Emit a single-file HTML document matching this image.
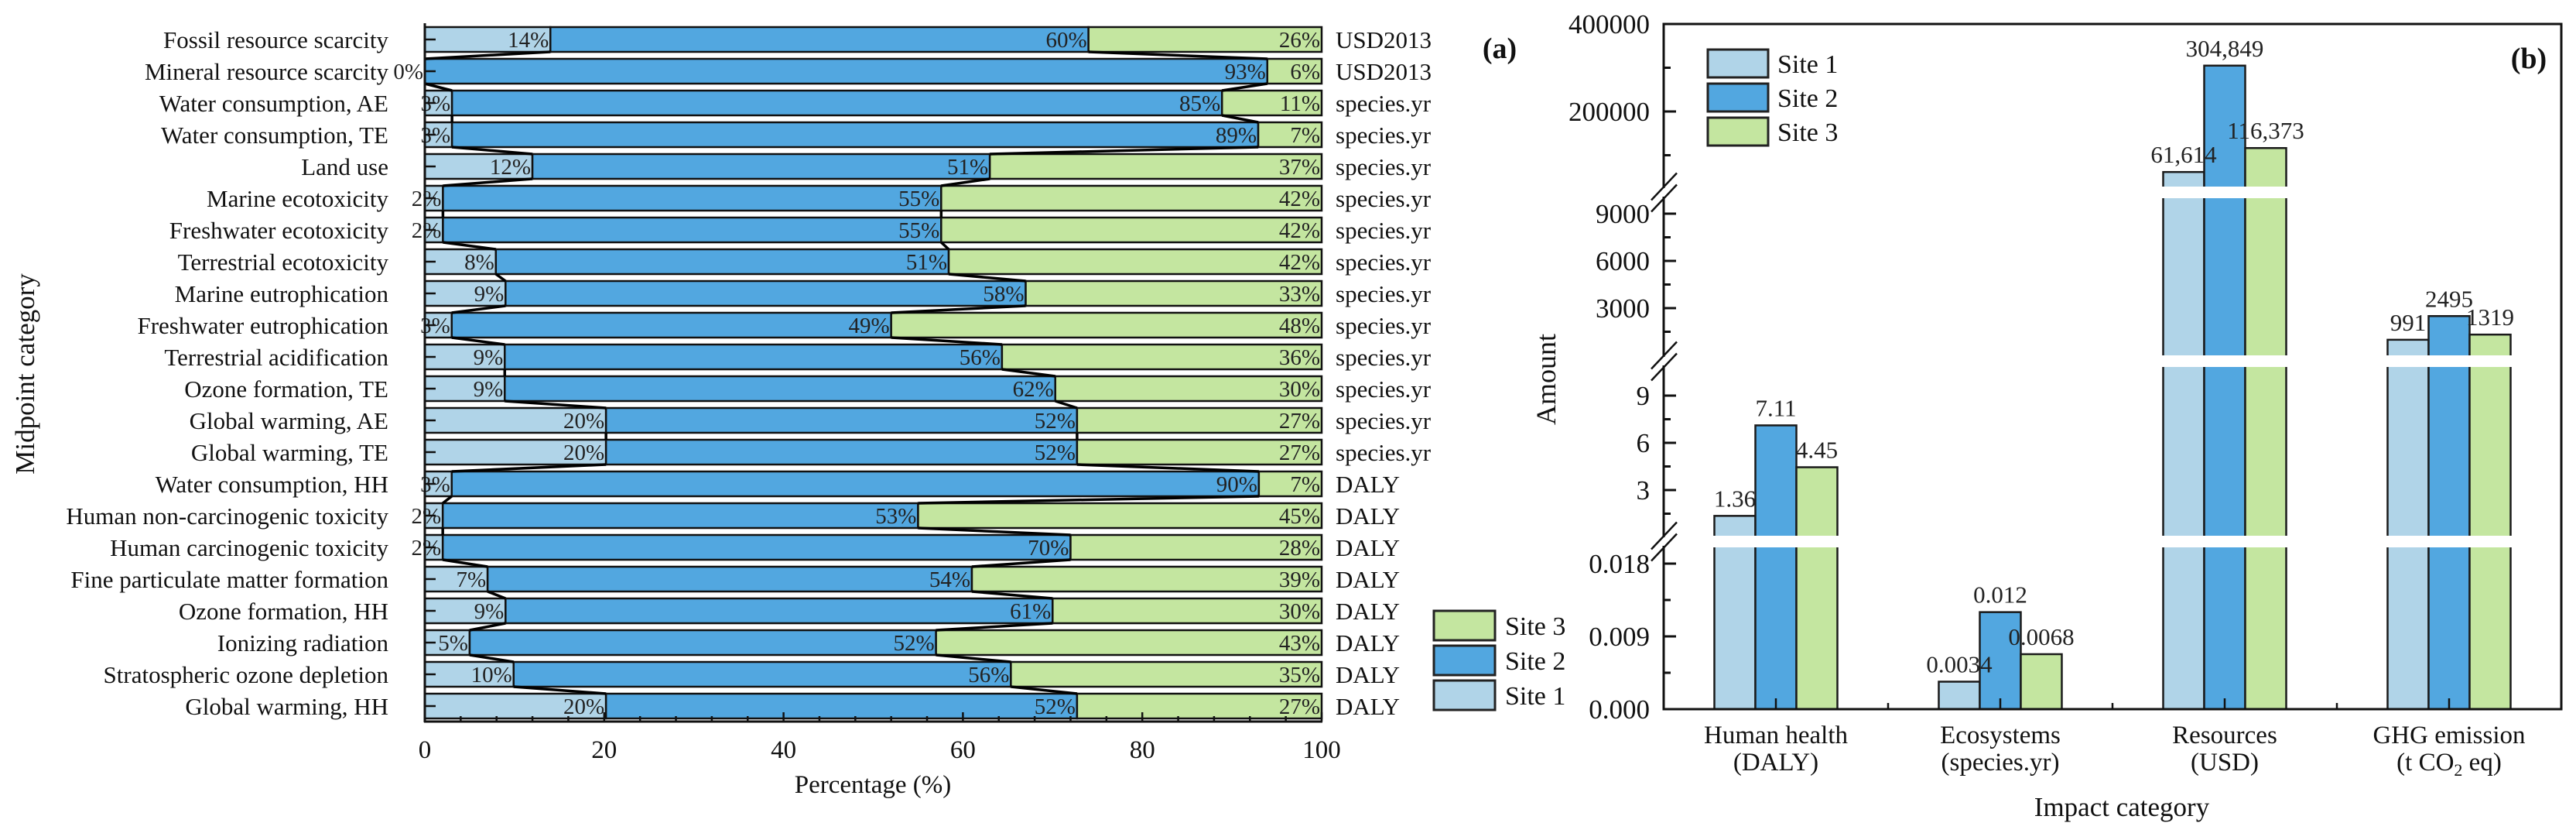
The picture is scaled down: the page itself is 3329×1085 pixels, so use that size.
<!DOCTYPE html>
<html><head><meta charset="utf-8"><style>
html,body{margin:0;padding:0;background:#fff}
svg{display:block;font-family:"Liberation Serif",serif}
</style></head><body>
<svg id="chart" width="3329" height="1085" viewBox="0 0 3329 1085" xmlns="http://www.w3.org/2000/svg">
<g id="left"></g>
<g id="right"></g>
<g id="rightLabels"></g>
</svg>
<script>
// ---- Panel (a) data ----
const categories = ["Fossil resource scarcity","Mineral resource scarcity","Water consumption, AE","Water consumption, TE","Land use","Marine ecotoxicity","Freshwater ecotoxicity","Terrestrial ecotoxicity","Marine eutrophication","Freshwater eutrophication","Terrestrial acidification","Ozone formation, TE","Global warming, AE","Global warming, TE","Water consumption, HH","Human non-carcinogenic toxicity","Human carcinogenic toxicity","Fine particulate matter formation","Ozone formation, HH","Ionizing radiation","Stratospheric ozone depletion","Global warming, HH"];
const units = ["USD2013","USD2013","species.yr","species.yr","species.yr","species.yr","species.yr","species.yr","species.yr","species.yr","species.yr","species.yr","species.yr","species.yr","DALY","DALY","DALY","DALY","DALY","DALY","DALY","DALY"];
const site1Pct = [14,0,3,3,12,2,2,8,9,3,9,9,20,20,3,2,2,7,9,5,10,20];
const site2Pct = [60,93,85,89,51,55,55,51,58,49,56,62,52,52,90,53,70,54,61,52,56,52];
const site3Pct = [26,6,11,7,37,42,42,42,33,48,36,30,27,27,7,45,28,39,30,43,35,27];
const pctTicks = [0,20,40,60,80,100];
// ---- Panel (b) data ----
const groups = ["Human health|(DALY)","Ecosystems|(species.yr)","Resources|(USD)","GHG emission|(t CO2 eq)"];
const site1Amt = [1.36,0.0034,61614,991];
const site2Amt = [7.11,0.012,304849,2495];
const site3Amt = [4.45,0.0068,116373,1319];
const amtLabels1 = ["1.36","0.0034","61,614","991"];
const amtLabels2 = ["7.11","0.012","304,849","2495"];
const amtLabels3 = ["4.45","0.0068","116,373","1319"];
const groupSegment = [1,0,3,2];

const C1="#b0d4e8",C2="#52a7e0",C3="#c4e6a0";
const NS="http://www.w3.org/2000/svg";
function mk(parent,tag,attrs,text){const e=document.createElementNS(NS,tag);for(const k in attrs)e.setAttribute(k,attrs[k]);if(text!==undefined)e.textContent=text;parent.appendChild(e);return e;}

// ================= Panel A =================
const L=document.getElementById('left');
const ax0=549, ax1=1708, axBottom=932, rowTop0=51, rowPitch=41, barH=32;
const xA=p=>ax0+(ax1-ax0)*p/100;
const yRow=i=>rowTop0+rowPitch*i;
const n=categories.length;
const bounds=[];
for(let i=0;i<n;i++){
  const s=site1Pct[i]+site2Pct[i]+site3Pct[i];
  const b1=site1Pct[i]/s*100, b2=(site1Pct[i]+site2Pct[i])/s*100;
  bounds.push([0,b1,b2,100]);
  const yc=yRow(i), yt=yc-barH/2;
  const segs=[[0,b1,C1,'site1'],[b1,b2,C2,'site2'],[b2,100,C3,'site3']];
  segs.forEach(sg=>{
    const r=mk(L,'rect',{x:xA(sg[0]),y:yt,width:Math.max(0,xA(sg[1])-xA(sg[0])),height:barH,fill:sg[2],stroke:'#111','stroke-width':2.5});
    
    
  });
  const labs=[[b1,site1Pct[i]],[b2,site2Pct[i]],[100,site3Pct[i]]];
  labs.forEach((lb,k)=>{
    const t=mk(L,'text',{x:xA(lb[0])-2,y:yc+10,'text-anchor':'end','font-size':29,fill:'#222'},lb[1]+'%');
    
    
  });
  const ct=mk(L,'text',{x:502,y:yc+11,'text-anchor':'end','font-size':31,fill:'#111'},categories[i]);
  
  
  const ut=mk(L,'text',{x:1726,y:yc+11,'font-size':31,fill:'#111'},units[i]);
  
  
  mk(L,'line',{x1:ax0,x2:ax0+14,y1:yc,y2:yc,stroke:'#111','stroke-width':2.5});
}
for(let i=0;i<n-1;i++){
  for(let k=1;k<=2;k++){
    const c=mk(L,'line',{x1:xA(bounds[i][k]),y1:yRow(i)+barH/2,x2:xA(bounds[i+1][k]),y2:yRow(i+1)-barH/2,stroke:'#000','stroke-width':3.5});
    
    
  }
}
mk(L,'line',{x1:ax0,x2:ax0,y1:30,y2:axBottom+1,stroke:'#111','stroke-width':3});
mk(L,'line',{x1:ax0-1,x2:ax1+1,y1:axBottom,y2:axBottom,stroke:'#111','stroke-width':3});
for(let p=0;p<=100;p+=4){
  const major=p%20===0;
  mk(L,'line',{x1:xA(p),x2:xA(p),y1:axBottom,y2:axBottom-(major?12:7),stroke:'#111','stroke-width':2.5});
}
pctTicks.forEach(p=>{
  const t=mk(L,'text',{x:xA(p),y:979,'text-anchor':'middle','font-size':33,fill:'#111'},String(p));
  
  
});
{const t=mk(L,'text',{x:1128,y:1024,'text-anchor':'middle','font-size':33,fill:'#111'},'Percentage (%)');

const t2=mk(L,'text',{x:0,y:0,'text-anchor':'middle','font-size':35,fill:'#111',transform:'translate(44,483) rotate(-90)'},'Midpoint category');

const t3=mk(L,'text',{x:1938,y:75,'text-anchor':'middle','font-size':38,'font-weight':'bold',fill:'#111'},'(a)');
}
[[C3,'Site 3',789],[C2,'Site 2',834],[C1,'Site 1',879]].forEach(l=>{
  const r=mk(L,'rect',{x:1853,y:l[2],width:79,height:38,fill:l[0],stroke:'#222','stroke-width':3});
  
  const t=mk(L,'text',{x:1945,y:l[2]+31,'font-size':34,fill:'#111'},l[1]);
  
});

// ================= Panel B =================
const R=document.getElementById('right');
const RL=document.getElementById('rightLabels');
const bx0=2150,bx1=3310,bTop=31,bBot=916,gw=290,bw=53;
const segments=[{lo:0,hi:0.02001,y0:916,y1:707},{lo:0,hi:10.82,y0:694,y1:474},{lo:0,hi:9984,y0:459,y1:256},{lo:28319,hi:400000,y0:241,y1:31}];
const gaps=[[692,707],[459,474],[241,256]];
function yB(seg,v){const s=segments[seg];return s.y0-(v-s.lo)*(s.y0-s.y1)/(s.hi-s.lo);}
const gc=i=>bx0+gw/2+gw*i;
const sets=[[site1Amt,C1,amtLabels1,'site1'],[site2Amt,C2,amtLabels2,'site2'],[site3Amt,C3,amtLabels3,'site3']];
for(let g=0;g<groups.length;g++){
  const seg=groupSegment[g];
  sets.forEach((st,k)=>{
    const x=gc(g)+(k-1.5)*bw, yt=yB(seg,st[0][g]);
    const r=mk(R,'rect',{x:x,y:yt,width:bw,height:bBot-yt,fill:st[1],stroke:'#1a1a1a','stroke-width':2.5});
    
    
    const t=mk(RL,'text',{x:x+bw/2,y:yt-12,'text-anchor':'middle','font-size':31,fill:'#222'},st[2][g]);
    
    
  });
  gaps.forEach(gp=>{
    const top=Math.min(...sets.map(st=>yB(seg,st[0][g])));
    if(top<gp[0]) mk(R,'rect',{x:gc(g)-1.5*bw-3,y:gp[0],width:3*bw+6,height:gp[1]-gp[0],fill:'#fff'});
  });
  const parts=groups[g].split('|');
  const t1=mk(R,'text',{x:gc(g),y:960,'text-anchor':'middle','font-size':33,fill:'#111'},parts[0]);
  
  if(parts[1].indexOf('CO2')>=0){
    const t2=mk(R,'text',{x:gc(g),y:995,'text-anchor':'middle','font-size':33,fill:'#111'});
    
    mk(t2,'tspan',{},'(t CO');mk(t2,'tspan',{'font-size':22,dy:7},'2');mk(t2,'tspan',{dy:-7},' eq)');
  } else {
    const t2=mk(R,'text',{x:gc(g),y:995,'text-anchor':'middle','font-size':33,fill:'#111'},parts[1]);
    
  }
  mk(R,'line',{x1:gc(g),x2:gc(g),y1:bBot,y2:bBot-14,stroke:'#111','stroke-width':2.5});
  if(g>0) mk(R,'line',{x1:bx0+gw*g,x2:bx0+gw*g,y1:bBot,y2:bBot-8,stroke:'#111','stroke-width':2.5});
}
mk(R,'rect',{x:bx0,y:bTop,width:bx1-bx0,height:bBot-bTop,fill:'none',stroke:'#111','stroke-width':3});
const yTicks=[[0,[0,0.009,0.018],[0.0045,0.0135],['0.000','0.009','0.018']],[1,[3,6,9],[1.5,4.5,7.5],['3','6','9']],[2,[3000,6000,9000],[1500,4500,7500],['3000','6000','9000']],[3,[200000,400000],[100000,300000],['200000','400000']]];
yTicks.forEach(tk=>{
  tk[1].forEach((v,j)=>{
    const y=yB(tk[0],v);
    mk(R,'line',{x1:bx0,x2:bx0+16,y1:y,y2:y,stroke:'#111','stroke-width':3});
    const t=mk(R,'text',{x:2132,y:y+12,'text-anchor':'end','font-size':35,fill:'#111'},tk[3][j]);
    
  });
  tk[2].forEach(v=>{const y=yB(tk[0],v);mk(R,'line',{x1:bx0,x2:bx0+9,y1:y,y2:y,stroke:'#111','stroke-width':3});});
});
gaps.forEach(gp=>{
  const yc=(gp[0]+gp[1])/2;
  mk(R,'rect',{x:bx0-3,y:gp[0]+2,width:6,height:gp[1]-gp[0]-4,fill:'#fff'});
  mk(R,'line',{x1:bx0-16,y1:yc+10,x2:bx0+17,y2:yc-25,stroke:'#111','stroke-width':2.5});
  mk(R,'line',{x1:bx0-16,y1:yc+25,x2:bx0+17,y2:yc-10,stroke:'#111','stroke-width':2.5});
});
{const t=mk(R,'text',{x:2742,y:1054,'text-anchor':'middle','font-size':35,fill:'#111'},'Impact category');

const t2=mk(R,'text',{x:0,y:0,'text-anchor':'middle','font-size':36,fill:'#111',transform:'translate(2010,490) rotate(-90)'},'Amount');

const t3=mk(R,'text',{x:3268,y:88,'text-anchor':'middle','font-size':38,'font-weight':'bold',fill:'#111'},'(b)');
}
[[C1,'Site 1',64],[C2,'Site 2',108],[C3,'Site 3',152]].forEach(l=>{
  const r=mk(R,'rect',{x:2207,y:l[2],width:78,height:36,fill:l[0],stroke:'#222','stroke-width':3});
  
  const t=mk(R,'text',{x:2297,y:l[2]+30,'font-size':34,fill:'#111'},l[1]);
  
});
</script>
</body></html>
